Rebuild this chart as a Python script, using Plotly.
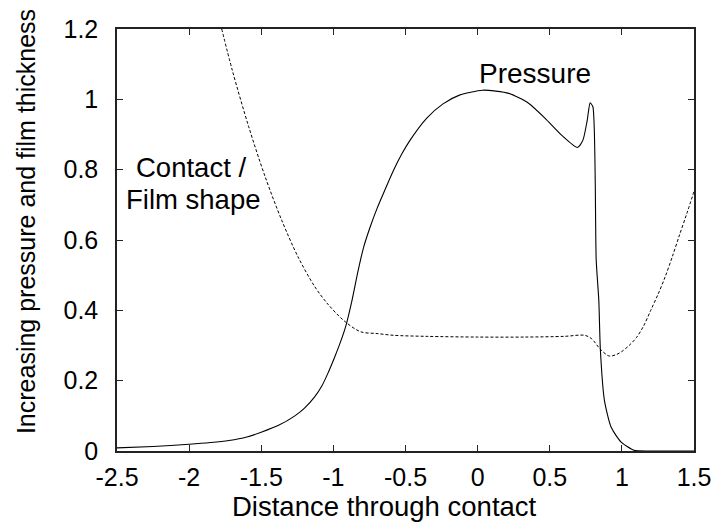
import plotly.graph_objects as go

# Pressure profile through the contact
pressure_x = [-2.5, -2.25, -2.0, -1.85, -1.724, -1.6, -1.496, -1.38, -1.267, -1.2,
              -1.13, -1.08, -1.039, -0.99, -0.948, -0.914, -0.87, -0.83, -0.79, -0.745,
              -0.697, -0.64, -0.582, -0.525, -0.468, -0.354, -0.24, -0.126, 0.034, 0.216,
              0.353, 0.468, 0.582, 0.692, 0.73, 0.76, 0.78, 0.799, 0.822, 0.84,
              0.851, 0.879, 0.925, 0.993, 1.084, 1.2, 1.5]
pressure_y = [0.009, 0.013, 0.019, 0.024, 0.030, 0.040, 0.054, 0.073, 0.100, 0.122,
              0.154, 0.185, 0.22, 0.268, 0.313, 0.355, 0.43, 0.51, 0.58, 0.637,
              0.69, 0.745, 0.799, 0.845, 0.884, 0.946, 0.987, 1.012, 1.026, 1.017,
              0.989, 0.946, 0.898, 0.863, 0.884, 0.941, 0.99, 0.979, 0.543, 0.429,
              0.287, 0.144, 0.068, 0.026, 0.002, 0.0, 0.0]

# Contact / film shape
film_x = [-1.774, -1.701, -1.587, -1.473, -1.359, -1.245, -1.13, -1.039, -0.925, -0.811,
          -0.697, -0.582, -0.35, 0.0, 0.33, 0.6, 0.742, 0.788, 0.856, 0.913,
          0.96, 1.0, 1.05, 1.1, 1.15, 1.2, 1.25, 1.3, 1.35, 1.4, 1.45, 1.5]
film_y = [1.2, 1.083, 0.922, 0.78, 0.657, 0.552, 0.468, 0.418, 0.37, 0.339,
          0.334, 0.329, 0.326, 0.324, 0.324, 0.326, 0.329, 0.32, 0.287, 0.27,
          0.274, 0.283, 0.30, 0.322, 0.355, 0.40, 0.445, 0.495, 0.553, 0.615, 0.675, 0.738]

x_ticks = [-2.5, -2, -1.5, -1, -0.5, 0, 0.5, 1, 1.5]
x_labels = ["-2.5", "-2", "-1.5", "-1", "-0.5", "0", "0.5", "1", "1.5"]
y_ticks = [0, 0.2, 0.4, 0.6, 0.8, 1.0, 1.2]
y_labels = ["0", "0.2", "0.4", "0.6", "0.8", "1", "1.2"]

FONT = "Liberation Sans, Arial, Helvetica, sans-serif"

# plot-area geometry in pixels
W, H = 723, 531
ML, MR, MT, MB = 117, 22, 29, 80
PW, PH = W - ML - MR, H - MT - MB

fig = go.Figure()
fig.add_trace(go.Scatter(x=film_x, y=film_y, mode="lines",
                         line=dict(color="black", width=1, dash="3px,2px", shape="spline",
                                   smoothing=0.9),
                         showlegend=False))
fig.add_trace(go.Scatter(x=pressure_x, y=pressure_y, mode="lines",
                         line=dict(color="black", width=1.1, shape="spline", smoothing=0.6),
                         showlegend=False))

axis_common = dict(showline=True, linecolor="#222", linewidth=1.5, mirror="ticks",
                   ticks="inside", ticklen=6, tickwidth=1, tickcolor="#222",
                   showgrid=False, zeroline=False,
                   tickfont=dict(family=FONT, size=25, color="black"))

fig.update_xaxes(range=[-2.5, 1.5], tickvals=x_ticks, ticktext=x_labels,
                 ticklabelstandoff=3, **axis_common)
fig.update_yaxes(range=[0, 1.2], tickvals=y_ticks, ticktext=y_labels,
                 ticklabelstandoff=12, **axis_common)

annotations = [
    dict(text="Pressure", x=0.396, y=1.074, xref="x", yref="y",
         font=dict(family=FONT, size=28, color="black")),
    dict(text="Contact /", x=-1.99, y=0.806, xref="x", yref="y",
         font=dict(family=FONT, size=27.5, color="black")),
    dict(text="Film shape", x=-1.97, y=0.715, xref="x", yref="y",
         font=dict(family=FONT, size=27.5, color="black")),
    dict(text="Distance through contact", x=(388 - ML) / PW, y=-(506 - (H - MB)) / PH,
         xref="paper", yref="paper",
         font=dict(family=FONT, size=27.5, color="black")),
    dict(text="Increasing pressure and film thickness", textangle=-90,
         x=-(ML - 25) / PW, y=((H - MB) - 222) / PH,
         xref="paper", yref="paper",
         font=dict(family=FONT, size=25, color="black")),
]
for a in annotations:
    a["showarrow"] = False
    a["xanchor"] = "center"
    a["yanchor"] = "middle"

fig.update_layout(width=W, height=H,
                  margin=dict(l=ML, r=MR, t=MT, b=MB, pad=0),
                  plot_bgcolor="white", paper_bgcolor="white",
                  annotations=annotations)

fig.write_html("out.html")
